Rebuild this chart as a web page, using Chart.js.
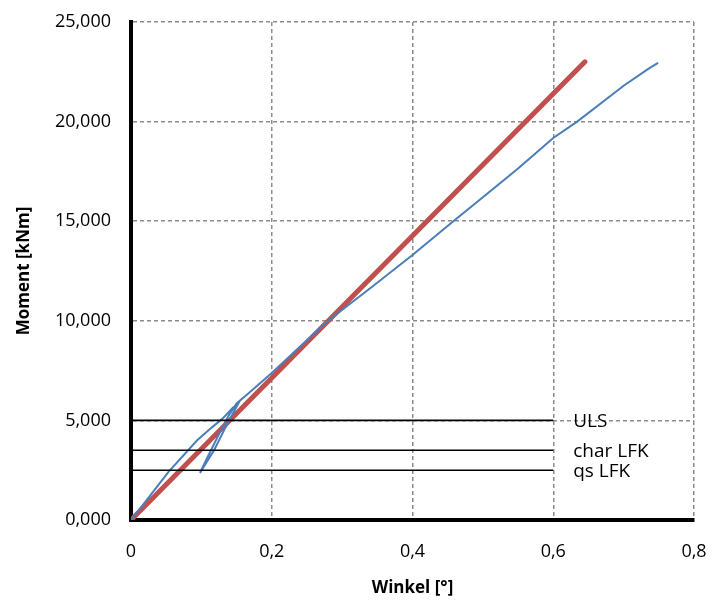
<!DOCTYPE html>
<html>
<head>
<meta charset="utf-8">
<script src="https://cdn.jsdelivr.net/npm/chart.js@4"></script>
<style>
  html, body { margin: 0; padding: 0; background: #fff; }
  #wrap { width: 713px; height: 603px; }
</style>
</head>
<body>
<div id="wrap"><canvas id="chart" width="713" height="603"></canvas></div>
<script>
// Versuch (blau): Winkel [°] / Moment [kNm]
const testAngle  = [0, 0.02, 0.053, 0.094, 0.115, 0.131, 0.145, 0.152, 0.135, 0.118, 0.098, 0.108, 0.122, 0.138, 0.150, 0.165, 0.2, 0.24, 0.28, 0.344, 0.4, 0.458, 0.5, 0.55, 0.6, 0.634, 0.7, 0.735, 0.749];
const testMoment = [0, 900, 2400, 4000, 4650, 5120, 5650, 5820, 4700, 3500, 2360, 3100, 4100, 5200, 5850, 6300, 7380, 8700, 10000, 11750, 13300, 15000, 16200, 17650, 19180, 20000, 21800, 22650, 22950];

// Rechnung (rot)
const calcAngle  = [0, 0.645];
const calcMoment = [0, 23000];

// Grenzlinien
const levelNames  = ['ULS', 'char LFK', 'qs LFK'];
const levelValues = [5000, 3500, 2500];
const levelFrom = 0;
const levelTo = 0.6;

const xTicks = [0, 0.2, 0.4, 0.6, 0.8];
const xTickLabels = ['0', '0,2', '0,4', '0,6', '0,8'];
const yTicks = [0, 5000, 10000, 15000, 20000, 25000];
const yTickLabels = ['0,000', '5,000', '10,000', '15,000', '20,000', '25,000'];

const FONT = "'Open Sans', 'Liberation Sans', sans-serif";

const datasets = [];
levelValues.forEach((v, i) => {
    datasets.push({
        label: levelNames[i],
        data: [{x: levelFrom, y: v}, {x: levelTo, y: v}],
        borderColor: '#000000',
        borderWidth: 1.6,
        pointRadius: 0,
        showLine: true
    });
});
datasets.push({
    label: 'Versuch',
    data: testAngle.map((a, i) => ({x: a, y: testMoment[i]})),
    borderColor: '#4a7ebb',
    borderWidth: 2,
    pointRadius: 0,
    showLine: true
});
datasets.push({
    label: 'Rechnung',
    data: calcAngle.map((a, i) => ({x: a, y: calcMoment[i]})),
    borderColor: '#c0504d',
    borderWidth: 5,
    borderCapStyle: 'round',
    pointRadius: 0,
    showLine: true
});

// Beschriftung der Grenzlinien
const levelLabels = {
    id: 'levelLabels',
    afterDatasetsDraw(chart) {
        const ctx = chart.ctx;
        const xs = chart.scales.x, ys = chart.scales.y;
        ctx.save();
        ctx.font = '19px ' + FONT;
        ctx.fillStyle = '#000';
        ctx.textBaseline = 'middle';
        levelValues.forEach((v, i) => {
            ctx.fillText(levelNames[i], xs.getPixelForValue(levelTo) + 20, ys.getPixelForValue(v) + 1);
        });
        ctx.restore();
    }
};

new Chart(document.getElementById('chart'), {
    type: 'scatter',
    data: { datasets: datasets },
    plugins: [levelLabels],
    options: {
        responsive: false,
        animation: false,
        layout: { padding: { top: 22, right: 19, bottom: 0, left: 0 } },
        plugins: { legend: { display: false }, tooltip: { enabled: false } },
        scales: {
            x: {
                type: 'linear',
                min: 0, max: 0.8,
                afterFit: s => { s.height = 83; s.paddingLeft = 0; s.paddingRight = 0; },
                afterBuildTicks: s => { s.ticks = xTicks.map(v => ({value: v})); },
                ticks: {
                    padding: 21,
                    color: '#000',
                    font: { family: FONT, size: 18 },
                    callback: (v) => xTickLabels[xTicks.indexOf(v)]
                },
                grid: { color: '#8c8c8c', lineWidth: 1.5, drawTicks: false },
                border: { color: '#000', width: 4, dash: [4, 3] },
                title: {
                    display: true, text: 'Winkel [°]', color: '#000',
                    font: { family: FONT, size: 17, weight: 'bold' },
                    padding: { top: 0, bottom: 5 }
                }
            },
            y: {
                type: 'linear',
                min: 0, max: 25000,
                afterFit: s => { s.width = 131; s.paddingTop = 0; s.paddingBottom = 0; },
                afterBuildTicks: s => { s.ticks = yTicks.map(v => ({value: v})); },
                ticks: {
                    padding: 20,
                    color: '#000',
                    font: { family: FONT, size: 18 },
                    callback: (v) => yTickLabels[yTicks.indexOf(v)]
                },
                grid: { color: '#8c8c8c', lineWidth: 1.5, drawTicks: false },
                border: { color: '#000', width: 4, dash: [4, 3] },
                title: {
                    display: true, text: 'Moment [kNm]', color: '#000',
                    font: { family: FONT, size: 17, weight: 'bold' },
                    padding: { top: 14, bottom: 0 }
                }
            }
        }
    }
});
</script>
</body>
</html>
